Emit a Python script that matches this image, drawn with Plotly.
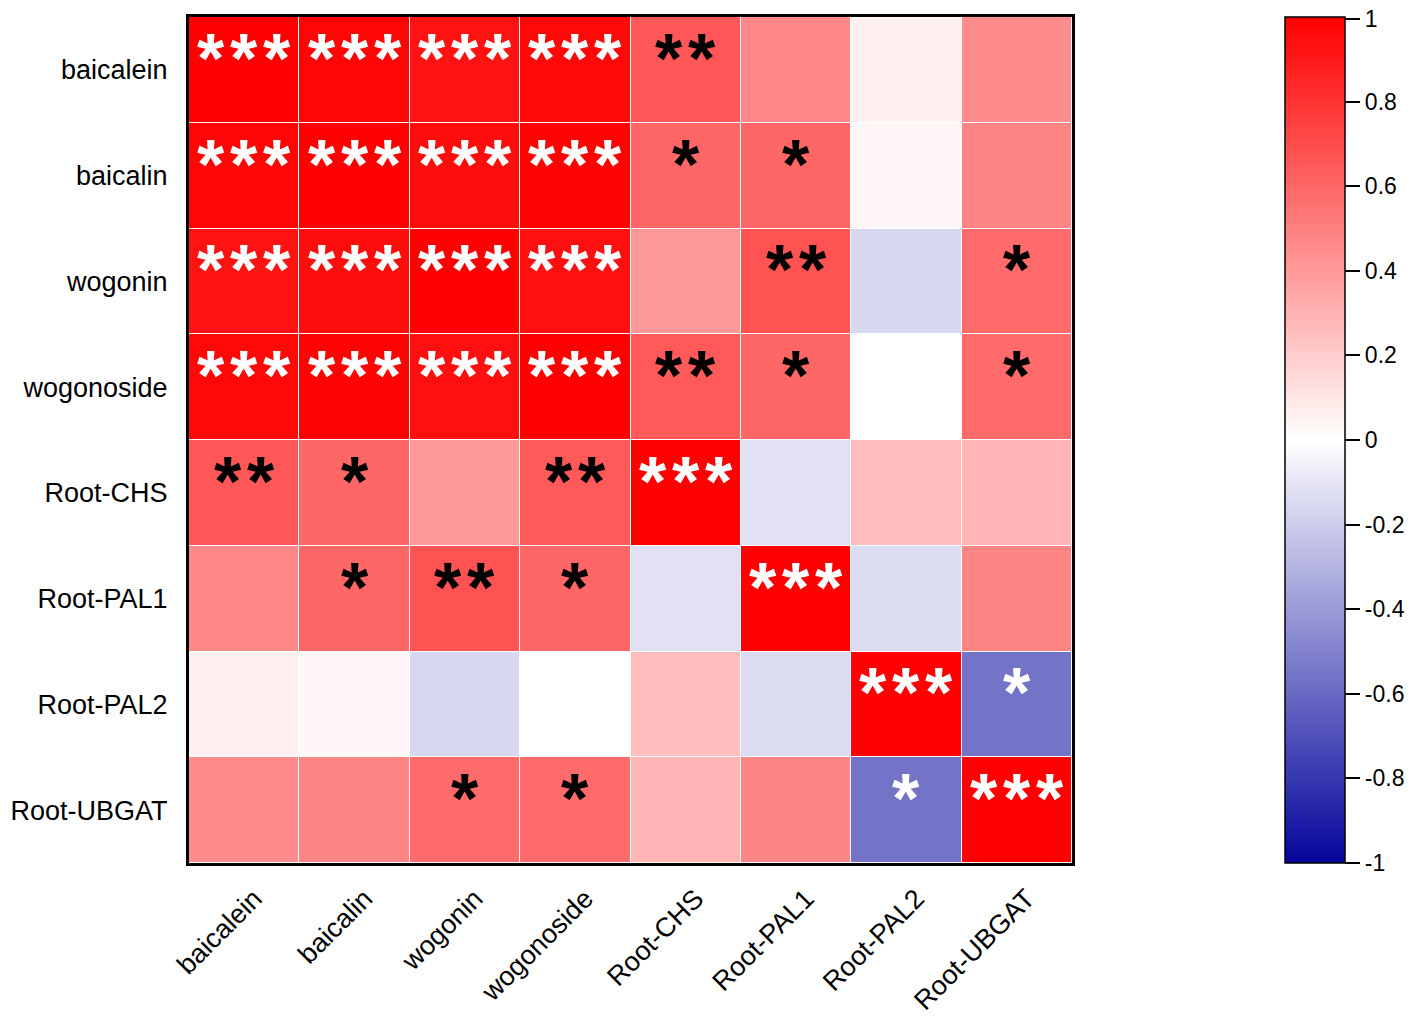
import plotly.graph_objects as go

labels = ["baicalein", "baicalin", "wogonin", "wogonoside",
          "Root-CHS", "Root-PAL1", "Root-PAL2", "Root-UBGAT"]

corr = [
    [1.00, 0.98, 0.93, 0.97, 0.66, 0.47, 0.06, 0.45],
    [0.98, 1.00, 0.95, 0.99, 0.60, 0.60, 0.03, 0.48],
    [0.93, 0.95, 1.00, 0.94, 0.40, 0.68, -0.16, 0.58],
    [0.97, 0.99, 0.94, 1.00, 0.65, 0.60, 0.00, 0.58],
    [0.66, 0.60, 0.40, 0.65, 1.00, -0.12, 0.26, 0.29],
    [0.47, 0.60, 0.68, 0.60, -0.12, 1.00, -0.14, 0.48],
    [0.06, 0.03, -0.16, 0.00, 0.26, -0.14, 1.00, -0.56],
    [0.45, 0.48, 0.58, 0.58, 0.29, 0.48, -0.56, 1.00],
]

stars = [
    ["***", "***", "***", "***", "**", "", "", ""],
    ["***", "***", "***", "***", "*", "*", "", ""],
    ["***", "***", "***", "***", "", "**", "", "*"],
    ["***", "***", "***", "***", "**", "*", "", "*"],
    ["**", "*", "", "**", "***", "", "", ""],
    ["", "*", "**", "*", "", "***", "", ""],
    ["", "", "", "", "", "", "***", "*"],
    ["", "", "*", "*", "", "", "*", "***"],
]

cbar_vals = [1, 0.8, 0.6, 0.4, 0.2, 0, -0.2, -0.4, -0.6, -0.8, -1]
cbar_text = ["1", "0.8", "0.6", "0.4", "0.2", "0", "-0.2", "-0.4", "-0.6", "-0.8", "-1"]

font_name = "Liberation Sans, Arial"

fig = go.Figure(go.Heatmap(
    z=corr, x=labels, y=labels,
    zmin=-1, zmax=1,
    colorscale=[[0, "#05059C"], [0.5, "#FFFFFF"], [1, "#FF0000"]],
    xgap=1, ygap=1,
    hoverinfo="skip",
    colorbar=dict(
        x=1.2415, xanchor="left", y=1, yanchor="top", len=1, lenmode="fraction",
        xpad=0, ypad=0,
        thickness=60, thicknessmode="pixels",
        outlinecolor="black", outlinewidth=1.5,
        # nudge the end ticks in a hair so the edge labels stay on the page
        tickmode="array", tickvals=[max(min(v, 0.995), -0.9999) for v in cbar_vals],
        ticktext=cbar_text, ticklabeloverflow="allow",
        ticks="outside", ticklen=15, tickwidth=1.5, tickcolor="black",
        tickfont=dict(family=font_name, size=23, color="black"),
    ),
))

# each asterisk drawn on its own so the spacing matches the original
step = 33
for i, row in enumerate(stars):
    for j, s in enumerate(row):
        if not s:
            continue
        v = corr[i][j]
        col = "white" if (v >= 0.9 or v < -0.5) else "black"
        n = len(s)
        for k in range(n):
            fig.add_annotation(
                x=labels[j], y=labels[i], text="<b>*</b>", showarrow=False,
                font=dict(family=font_name, size=70, color=col),
                xshift=(k - (n - 1) / 2) * step, yshift=11,
            )

fig.update_xaxes(
    tickangle=-45, showgrid=False, ticks="", automargin=False,
    ticklabelstandoff=6, ticklabelshift=10,
    tickfont=dict(family=font_name, size=27, color="black"),
    showline=True, linecolor="black", linewidth=3, mirror=True,
)
fig.update_yaxes(
    autorange="reversed", showgrid=False, ticks="", automargin=False,
    ticklabelstandoff=13,
    tickfont=dict(family=font_name, size=27, color="black"),
    showline=True, linecolor="black", linewidth=3, mirror=True,
)

# the page body adds a small margin, so the figure is a bit smaller than the window
fig.update_layout(
    width=1410, height=1018,
    margin=dict(l=181, r=346, t=9, b=163, autoexpand=False),
    paper_bgcolor="white", plot_bgcolor="white",
)

fig.write_html("out.html")
